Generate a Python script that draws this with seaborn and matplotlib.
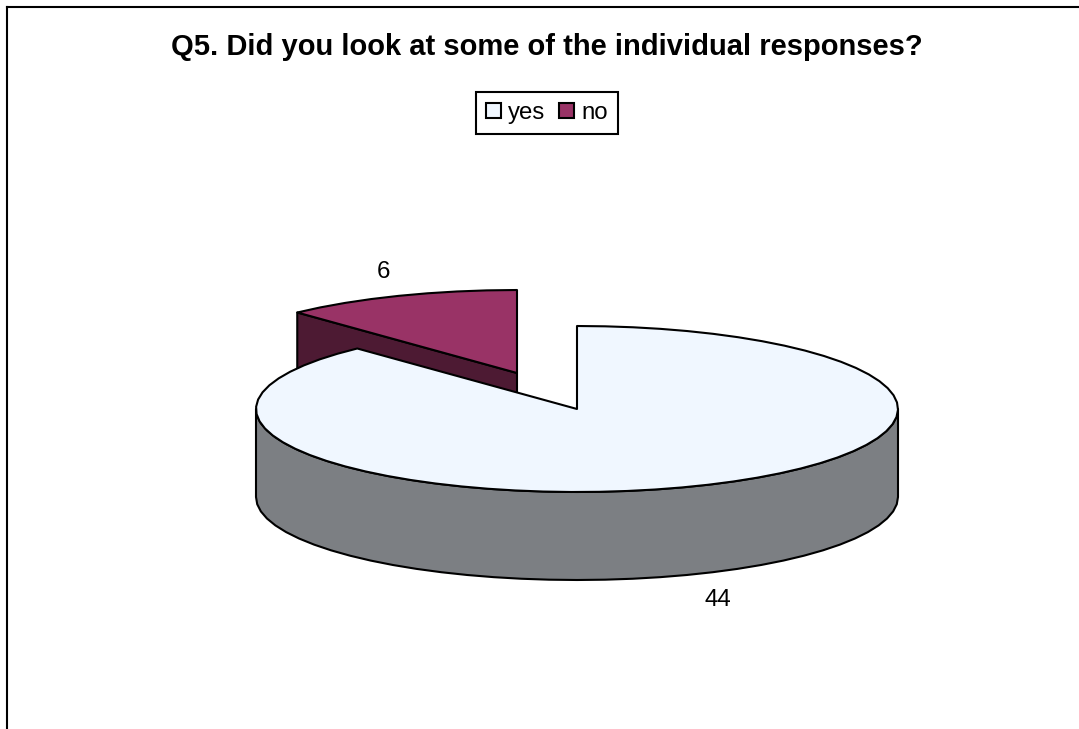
import numpy as np
import matplotlib
matplotlib.use('Agg')
import matplotlib.pyplot as plt
from matplotlib.patches import Patch, Polygon
import seaborn as sns

title = 'Q5. Did you look at some of the individual responses?'
labels = ['yes', 'no']
values = [44, 6]

top_colors = ['#F0F7FF', '#993366']
side_colors = ['#7C7F83', '#4D1A33']

sns.set_theme(style='white')
plt.rcParams['font.family'] = ['Liberation Sans', 'DejaVu Sans']

# pie geometry in pixels
rx, ry, depth = 321, 83, 88
centers = [(577, 409), (517, 373)]
lw = 1.5


def rim(center, a, b, step=5):
    # angles clockwise from 12 o'clock, in degrees; coarse steps like the original's jagged edge
    n = max(int(abs(b - a) / step) + 1, 2)
    t = np.radians(np.linspace(a, b, n))
    return np.column_stack([center[0] + rx * np.sin(t), center[1] - ry * np.cos(t)])


def poly(ax, pts, color):
    ax.add_patch(Polygon(pts, closed=True, facecolor=color, edgecolor='black', linewidth=lw, joinstyle='round'))


fig = plt.figure(figsize=(10.79, 7.29), dpi=100)
ax = fig.add_axes([6.5 / 1079, 0, 1 - 6.5 / 1079, 1 - 6.5 / 729])
ax.set_xlim(6.5, 1079)
ax.set_ylim(729, 6.5)
ax.set_xticks([])
ax.set_yticks([])
sns.despine(ax=ax, top=False, right=True, bottom=True)
for s in ['left', 'top']:
    ax.spines[s].set_color('black')
    ax.spines[s].set_linewidth(1.5)

shares = np.array(values) / sum(values) * 360
split = shares[0]

# exploded "no" slice goes behind the big one
c = centers[1]
edge = rim(c, split, split + 1)[0]
poly(ax, [edge, c, (c[0], c[1] + depth), (edge[0], edge[1] + depth)], side_colors[1])
poly(ax, np.vstack([rim(c, split, 360), [c]]), top_colors[1])

# "yes" slice: front wall, then top
c = centers[0]
front = rim(c, 90, 270)
poly(ax, np.vstack([front, (front + [0, depth])[::-1]]), side_colors[0])
poly(ax, np.vstack([rim(c, 0, split), [c]]), top_colors[0])

# data labels
ax.text(383, 272, str(values[1]), ha='center', va='center', fontsize=17.3, color='black')
ax.text(718, 600, str(values[0]), ha='center', va='center', fontsize=17.3, color='black')

ax.text(546.5, 54.5, title, ha='center', va='baseline', fontsize=21, fontweight='bold', color='black')

handles = [Patch(facecolor=top_colors[i], edgecolor='black', linewidth=1.5, label=labels[i]) for i in range(2)]
leg = ax.legend(handles=handles, loc='center', bbox_to_anchor=(547, 113), bbox_transform=ax.transData,
                ncol=2, fontsize=17.3, frameon=True, fancybox=False, framealpha=1, edgecolor='black',
                handlelength=0.62, handleheight=0.62, handletextpad=0.3, columnspacing=0.58, borderpad=0.4,
                borderaxespad=0)
leg.get_frame().set_linewidth(1.5)
for t in leg.get_texts():
    t.set_color('black')

fig.savefig('out.png', dpi=100)
